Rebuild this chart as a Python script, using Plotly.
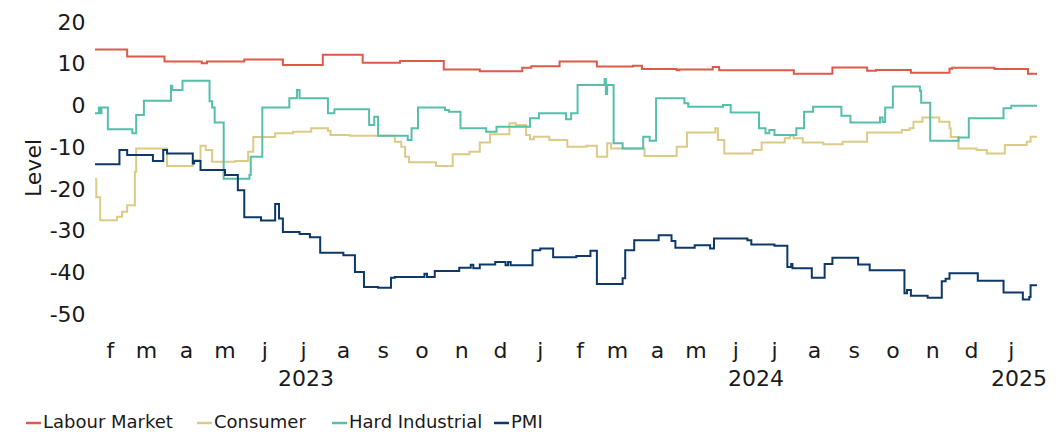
import plotly.graph_objects as go

# ---- Series (change points; each value holds until the next date) ----
labour_dates = ["2023-02-03", "2023-02-28", "2023-03-29", "2023-04-27", "2023-05-01", "2023-05-30",
                "2023-06-29", "2023-07-30", "2023-08-30", "2023-09-28", "2023-11-01", "2023-11-29",
                "2024-01-01", "2024-01-08", "2024-01-30", "2024-02-28", "2024-03-27", "2024-04-03",
                "2024-04-30", "2024-05-02", "2024-05-28", "2024-06-02", "2024-07-30", "2024-08-29",
                "2024-09-25", "2024-10-02", "2024-10-29", "2024-11-28", "2024-11-30", "2025-01-02",
                "2025-01-28", "2025-02-04"]
labour_vals = [13.4, 11.7, 10.5, 10.1, 10.5, 11.0,
               9.7, 12.1, 10.2, 10.6, 8.6, 8.2,
               9.0, 9.4, 10.5, 9.3, 9.5, 8.7,
               8.4, 8.6, 9.2, 8.4, 7.6, 9.1,
               8.3, 8.5, 7.8, 8.8, 9.0, 8.7,
               7.6, 7.6]

consumer_dates = ["2023-02-03", "2023-02-04", "2023-02-07", "2023-02-20", "2023-02-24", "2023-02-28",
                  "2023-03-06", "2023-03-07", "2023-03-31", "2023-04-20", "2023-04-26", "2023-04-30",
                  "2023-05-05", "2023-05-23", "2023-06-02", "2023-06-06", "2023-06-23", "2023-07-07",
                  "2023-07-21", "2023-08-03", "2023-08-05", "2023-08-20", "2023-09-24", "2023-09-29",
                  "2023-10-02", "2023-10-05", "2023-10-26", "2023-11-08", "2023-11-21", "2023-11-29",
                  "2023-12-07", "2023-12-22", "2023-12-27", "2024-01-04", "2024-01-07", "2024-01-10",
                  "2024-01-22", "2024-02-05", "2024-02-20", "2024-02-28", "2024-03-07", "2024-03-10",
                  "2024-04-05", "2024-04-30", "2024-05-08", "2024-05-30", "2024-06-01", "2024-06-06",
                  "2024-06-28", "2024-07-05", "2024-07-23", "2024-07-27", "2024-07-30", "2024-08-06",
                  "2024-08-22", "2024-09-06", "2024-09-25", "2024-10-22", "2024-10-28", "2024-10-31",
                  "2024-11-07", "2024-11-20", "2024-11-28", "2024-11-29", "2024-12-05", "2024-12-19",
                  "2024-12-27", "2025-01-10", "2025-01-27", "2025-01-30", "2025-02-04"]
consumer_vals = [-17.7, -22.0, -27.5, -26.7, -25.5, -23.9,
                 -15.9, -10.3, -14.5, -13.1, -9.7, -10.7,
                 -13.5, -13.3, -11.1, -7.6, -6.7, -6.3,
                 -5.5, -6.1, -7.1, -7.3, -8.7, -9.9,
                 -12.3, -13.6, -14.5, -11.7, -11.1, -8.9,
                 -6.9, -4.3, -4.7, -7.1, -8.1, -7.5,
                 -8.3, -9.9, -9.7, -12.3, -9.1, -10.3,
                 -12.1, -9.9, -6.5, -5.5, -8.3, -11.5,
                 -10.7, -8.9, -7.9, -7.3, -7.9, -8.9,
                 -9.3, -8.7, -6.5, -5.9, -5.5, -3.9,
                 -2.9, -3.9, -5.5, -7.6, -10.3, -10.7,
                 -11.5, -9.5, -8.7, -7.5, -7.5]

hard_dates = ["2023-02-03", "2023-02-06", "2023-02-07", "2023-02-08", "2023-02-13", "2023-03-04",
              "2023-03-07", "2023-03-13", "2023-04-03", "2023-04-04", "2023-04-12", "2023-05-03",
              "2023-05-05", "2023-05-07", "2023-05-14", "2023-06-03", "2023-06-04", "2023-06-13",
              "2023-07-04", "2023-07-10", "2023-07-12", "2023-08-03", "2023-08-08", "2023-09-04",
              "2023-09-08", "2023-09-11", "2023-10-04", "2023-10-07", "2023-10-12", "2023-11-02",
              "2023-11-05", "2023-11-14", "2023-12-04", "2023-12-12", "2024-01-07", "2024-01-14",
              "2024-02-04", "2024-02-08", "2024-02-13", "2024-03-05", "2024-03-06", "2024-03-07",
              "2024-03-12", "2024-03-19", "2024-04-04", "2024-04-09", "2024-04-14", "2024-05-06",
              "2024-05-09", "2024-06-05", "2024-06-11", "2024-07-03", "2024-07-08", "2024-07-11",
              "2024-07-15", "2024-08-01", "2024-08-07", "2024-08-14", "2024-09-05", "2024-09-12",
              "2024-10-05", "2024-10-07", "2024-10-09", "2024-10-15", "2024-11-05", "2024-11-06",
              "2024-11-13", "2024-12-05", "2024-12-13", "2025-01-09", "2025-01-15", "2025-02-04"]
hard_vals = [-1.9, -0.5, -1.9, -0.5, -5.7, -6.7,
             -2.3, 1.1, 4.7, 3.7, 5.9, 1.0,
             -0.5, -4.1, -17.6, -16.7, -12.3, -0.5,
             1.7, 3.7, 1.7, -1.9, -0.9, -4.7,
             -2.7, -7.3, -8.3, -5.5, -0.5, -1.1,
             -1.5, -5.5, -6.3, -5.1, -3.1, -1.9,
             -3.3, -1.9, 4.9, 6.3, 2.7, 4.9,
             -9.1, -10.3, -7.5, -8.5, 1.7, 0.5,
             -0.3, 0.1, -1.7, -5.5, -6.7, -5.9,
             -7.1, -5.5, -1.5, -0.3, -2.5, -4.1,
             -2.9, -4.0, -0.5, 4.5, 3.5, 0.6,
             -8.5, -7.7, -3.1, -0.7, -0.1, -0.1]

pmi_dates = ["2023-02-03", "2023-02-22", "2023-02-28", "2023-03-20", "2023-03-28", "2023-03-31",
             "2023-04-20", "2023-04-21", "2023-04-26", "2023-05-15", "2023-05-25", "2023-05-30",
             "2023-06-12", "2023-06-23", "2023-06-26", "2023-06-29", "2023-07-12", "2023-07-20",
             "2023-07-28", "2023-08-15", "2023-08-24", "2023-08-31", "2023-09-11", "2023-09-21",
             "2023-09-24", "2023-10-17", "2023-10-19", "2023-10-25", "2023-11-13", "2023-11-22",
             "2023-11-24", "2023-11-29", "2023-12-11", "2023-12-19", "2023-12-21", "2023-12-23",
             "2024-01-09", "2024-01-15", "2024-01-25", "2024-02-12", "2024-02-23", "2024-02-28",
             "2024-03-19", "2024-03-21", "2024-03-28", "2024-04-16", "2024-04-26", "2024-04-29",
             "2024-05-14", "2024-05-26", "2024-05-29", "2024-06-24", "2024-06-27", "2024-07-15",
             "2024-07-25", "2024-07-28", "2024-07-29", "2024-08-13", "2024-08-23", "2024-08-29",
             "2024-09-18", "2024-09-27", "2024-10-24", "2024-10-26", "2024-10-29", "2024-11-11",
             "2024-11-22", "2024-11-25", "2024-11-28", "2024-12-20", "2025-01-09", "2025-01-24",
             "2025-01-29", "2025-01-30", "2025-02-04"]
pmi_vals = [-14.1, -10.7, -11.9, -13.3, -10.7, -11.5,
            -13.9, -13.3, -15.5, -16.7, -20.3, -26.8,
            -27.6, -23.6, -27.1, -30.3, -30.8, -31.6,
            -35.3, -35.9, -39.9, -43.5, -43.7, -41.3,
            -41.1, -40.3, -41.1, -39.7, -38.9, -38.2,
            -39.0, -38.1, -37.5, -38.3, -37.5, -38.3,
            -34.7, -34.3, -36.4, -36.1, -34.8, -42.8,
            -41.4, -34.7, -32.3, -31.1, -32.5, -34.1,
            -33.5, -34.3, -31.9, -32.3, -33.3, -33.6,
            -38.7, -38.0, -39.0, -41.3, -38.0, -36.5,
            -38.1, -39.5, -45.0, -44.2, -45.6, -46.1,
            -42.1, -41.5, -40.2, -42.0, -44.8, -46.5,
            -45.9, -43.1, -43.1]

series_names = ["Labour Market", "Consumer", "Hard Industrial", "PMI"]
series_colors = ["#DD5A48", "#DCCB86", "#56BFAC", "#0D3868"]

# Month ticks placed mid-month, labelled with lowercase initials
month_ticks = ["2023-02-15", "2023-03-15", "2023-04-15", "2023-05-15", "2023-06-15", "2023-07-15",
               "2023-08-15", "2023-09-15", "2023-10-15", "2023-11-15", "2023-12-15", "2024-01-15",
               "2024-02-15", "2024-03-15", "2024-04-15", "2024-05-15", "2024-06-15", "2024-07-15",
               "2024-08-15", "2024-09-15", "2024-10-15", "2024-11-15", "2024-12-15", "2025-01-15"]
month_text = ["f", "m", "a", "m", "j", "j", "a", "s", "o", "n", "d", "j",
              "f", "m", "a", "m", "j", "j", "a", "s", "o", "n", "d", "j"]
year_labels = ["2023", "2024", "2025"]
year_pos = ["2023-07-17", "2024-07-01", "2025-01-21"]

y_ticks = [-50, -40, -30, -20, -10, 0, 10, 20]
y_tick_text = ["-50", "-40", "-30", "-20", "-10", "0", "10", "20"]

FONT = "DejaVu Sans"
INK = "#1a1a1a"
W, H = 1056, 432
ML, MR, MT, MB = 95, 19, 1, 97
PLOT_W = W - ML - MR
PLOT_H = H - MT - MB


def paper_x(px):
    return (px - ML) / PLOT_W


def paper_y(py):
    return (H - MB - py) / PLOT_H


fig = go.Figure()
all_series = [(labour_dates, labour_vals), (consumer_dates, consumer_vals),
              (hard_dates, hard_vals), (pmi_dates, pmi_vals)]
for (d, v), name, col in zip(all_series, series_names, series_colors):
    fig.add_trace(go.Scatter(x=d, y=v, name=name, mode="lines",
                             line=dict(color=col, width=2, shape="hv"),
                             showlegend=False))

fig.update_layout(
    width=W, height=H,
    margin=dict(l=ML, r=MR, t=MT, b=MB),
    paper_bgcolor="white", plot_bgcolor="white",
    font=dict(family=FONT, color=INK, size=22),
    xaxis=dict(range=["2023-02-03", "2025-02-04"], tickvals=month_ticks, ticktext=month_text,
               showgrid=False, zeroline=False, showline=False, ticks="",
               tickfont=dict(size=22, color=INK)),
    yaxis=dict(range=[-55, 25], tickvals=y_ticks, ticktext=y_tick_text,
               showgrid=False, zeroline=False,
               showline=False, ticks="outside", ticklen=4, tickcolor="rgba(0,0,0,0)",
               tickfont=dict(size=22, color=INK),
               title=dict(text="Level", font=dict(size=22, color=INK), standoff=1)),
)

for txt, pos in zip(year_labels, year_pos):
    fig.add_annotation(x=pos, y=paper_y(378), xref="x", yref="paper", text=txt, showarrow=False,
                       font=dict(size=22, color=INK), xanchor="center", yanchor="middle")

# Legend: short coloured dash followed by the series name
legend_dash_px = [26, 197, 332, 494]
for name, col, px in zip(series_names, series_colors, legend_dash_px):
    fig.add_shape(type="line", xref="paper", yref="paper",
                  x0=paper_x(px), x1=paper_x(px + 15), y0=paper_y(423), y1=paper_y(423),
                  line=dict(color=col, width=2.5))
    fig.add_annotation(x=paper_x(px + 15), y=paper_y(422), xref="paper", yref="paper",
                       text=name, showarrow=False, xanchor="left", yanchor="middle",
                       font=dict(size=18, color=INK))

fig.write_html("out.html")
